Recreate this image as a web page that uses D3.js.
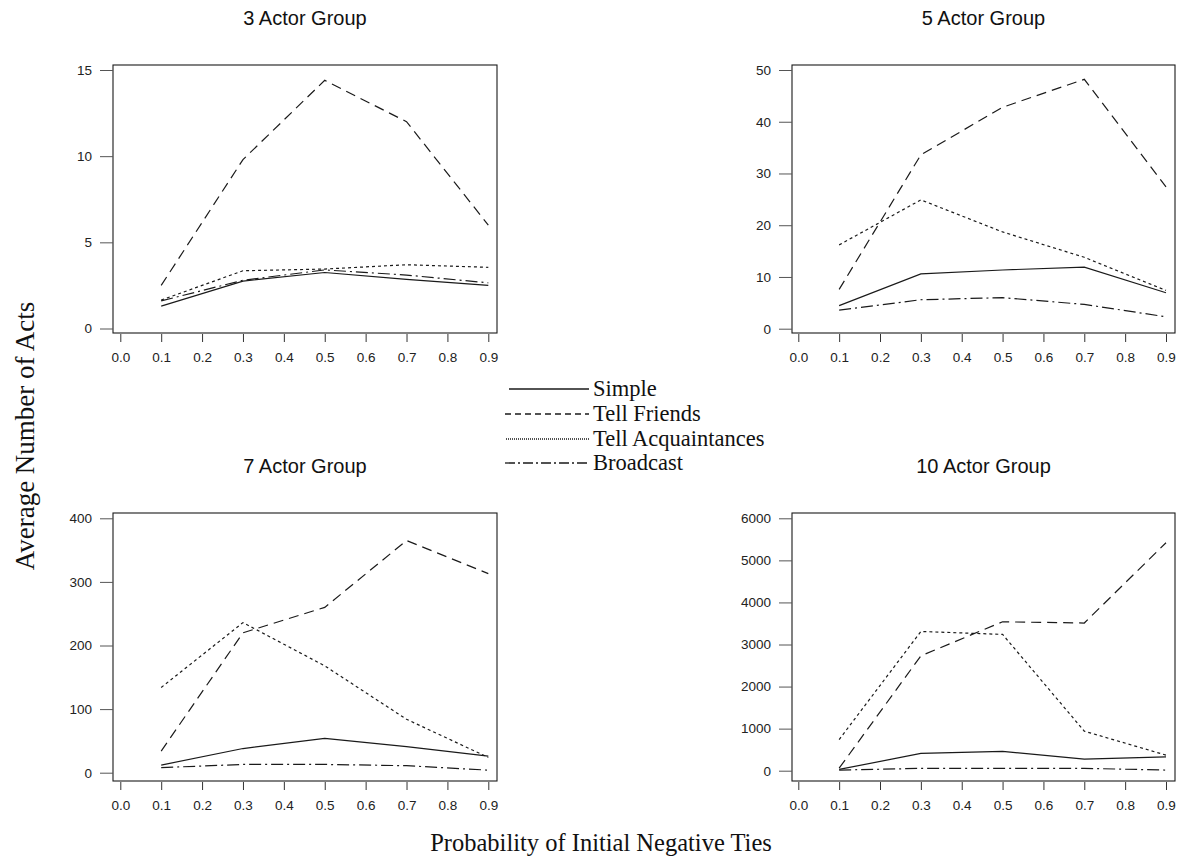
<!DOCTYPE html>
<html><head><meta charset="utf-8">
<script src="https://cdn.jsdelivr.net/npm/d3@7"></script>
<style>body{margin:0;background:#fff}svg{display:block}</style>
</head><body><svg id="c" width="1181" height="859"></svg>
<script>
const probs = [0.1, 0.3, 0.5, 0.7, 0.9];
const xTicks = [0.0,0.1,0.2,0.3,0.4,0.5,0.6,0.7,0.8,0.9];
const seriesNames = ["Simple","Tell Friends","Tell Acquaintances","Broadcast"];
const panelTitles = ["3 Actor Group","5 Actor Group","7 Actor Group","10 Actor Group"];

// values per panel, per series
const g3_simple = [1.3, 2.75, 3.25, 2.85, 2.5];
const g3_friends = [2.5, 9.8, 14.4, 12.0, 6.0];
const g3_acq = [1.65, 3.35, 3.45, 3.7, 3.55];
const g3_broad = [1.6, 2.8, 3.4, 3.1, 2.65];
const g3_ticks = [0,5,10,15];

const g5_simple = [4.45, 10.6, 11.35, 11.9, 6.95];
const g5_friends = [7.6, 33.6, 42.8, 48.2, 27.4];
const g5_acq = [16.2, 24.9, 18.7, 13.8, 7.4];
const g5_broad = [3.6, 5.6, 6.0, 4.7, 2.3];
const g5_ticks = [0,10,20,30,40,50];

const g7_simple = [12, 38, 54, 41, 26];
const g7_friends = [34, 220, 260, 365, 313];
const g7_acq = [134, 236, 168, 84, 24];
const g7_broad = [8, 13, 13, 11, 4];
const g7_ticks = [0,100,200,300,400];

const g10_simple = [30, 410, 460, 275, 330];
const g10_friends = [60, 2730, 3540, 3510, 5420];
const g10_acq = [740, 3310, 3240, 940, 370];
const g10_broad = [15, 55, 55, 55, 15];
const g10_ticks = [0,1000,2000,3000,4000,5000,6000];

const svg = d3.select("#c");
const ink = "#1a1a1a";
const dashes = ["none", "10,6", "3,3", "12,4,2,4"];
const sans = "Liberation Sans, Arial, sans-serif";
const serif = "Liberation Serif, Times New Roman, serif";

const panels = [
  {title: panelTitles[0], data:[g3_simple,g3_friends,g3_acq,g3_broad], ticks:g3_ticks, box:[113,65,497,333], xr:[120.3,488.3], yr:[328.5,70]},
  {title: panelTitles[1], data:[g5_simple,g5_friends,g5_acq,g5_broad], ticks:g5_ticks, box:[792,65,1175,333], xr:[798.3,1166], yr:[328.7,70]},
  {title: panelTitles[2], data:[g7_simple,g7_friends,g7_acq,g7_broad], ticks:g7_ticks, box:[113,513,497,781], xr:[120.3,488.3], yr:[772.7,518.3]},
  {title: panelTitles[3], data:[g10_simple,g10_friends,g10_acq,g10_broad], ticks:g10_ticks, box:[792,513,1175,781], xr:[798.3,1166], yr:[770.7,518.3]}
];

panels.forEach(p => {
  const [x0,y0,x1,y1] = p.box;
  const x = d3.scaleLinear().domain([0,0.9]).range(p.xr);
  const y = d3.scaleLinear().domain([p.ticks[0], p.ticks[p.ticks.length-1]]).range(p.yr);
  const g = svg.append("g");
  g.append("rect").attr("x",x0).attr("y",y0).attr("width",x1-x0).attr("height",y1-y0)
    .attr("fill","none").attr("stroke",ink).attr("stroke-width",1.1);
  // title
  g.append("text").attr("x",(x0+x1)/2).attr("y",y0-40).attr("text-anchor","middle")
    .attr("font-family",sans).attr("font-size",20).attr("fill","#111").text(p.title);
  // x axis
  const xa = d3.axisBottom(x).tickValues(xTicks).tickFormat(d3.format(".1f")).tickSize(9).tickSizeOuter(0);
  const gx = g.append("g").attr("transform",`translate(0,${y1})`).call(xa);
  gx.select(".domain").remove();
  gx.selectAll(".tick line").attr("stroke","#333").attr("y1",1);
  gx.selectAll(".tick text").attr("y",19).attr("dy","0.71em").attr("font-size",13.5)
    .attr("font-family",sans).attr("fill","#222");
  // y axis
  const ya = d3.axisLeft(y).tickValues(p.ticks).tickFormat(d3.format("d")).tickSize(13).tickSizeOuter(0);
  const gy = g.append("g").attr("transform",`translate(${x0},0)`).call(ya);
  gy.select(".domain").remove();
  gy.selectAll(".tick line").attr("stroke","#555");
  gy.selectAll(".tick text").attr("x",-21).attr("font-size",13.5)
    .attr("font-family",sans).attr("fill","#222");
  // lines
  const line = d3.line().x((d,i)=>x(probs[i])).y(d=>y(d));
  p.data.forEach((s,k)=>{
    g.append("path").datum(s).attr("d",line).attr("fill","none")
      .attr("stroke",ink).attr("stroke-width",1.2)
      .attr("stroke-dasharray",dashes[k]);
  });
});

// legend
const legY = [389, 414, 439, 463];
const legX0 = [509, 505, 506, 505];
const legDash = ["none","6,4","1,1","10,3,2,3"];
seriesNames.forEach((n,i)=>{
  svg.append("line").attr("x1",legX0[i]).attr("x2",589).attr("y1",legY[i]).attr("y2",legY[i])
    .attr("stroke",ink).attr("stroke-width",1.3).attr("stroke-dasharray",legDash[i]);
  svg.append("text").attr("x",593).attr("y",legY[i]+7).attr("font-family",serif)
    .attr("font-size",22.5).attr("fill","#111").text(n);
});

// axis titles
svg.append("text").attr("transform","translate(34,436) rotate(-90)").attr("text-anchor","middle")
  .attr("font-family",serif).attr("font-size",27).attr("fill","#111")
  .text("Average Number of Acts");
svg.append("text").attr("x",601).attr("y",851).attr("text-anchor","middle")
  .attr("font-family",serif).attr("font-size",24.5).attr("fill","#111")
  .text("Probability of Initial Negative Ties");
</script></body></html>
